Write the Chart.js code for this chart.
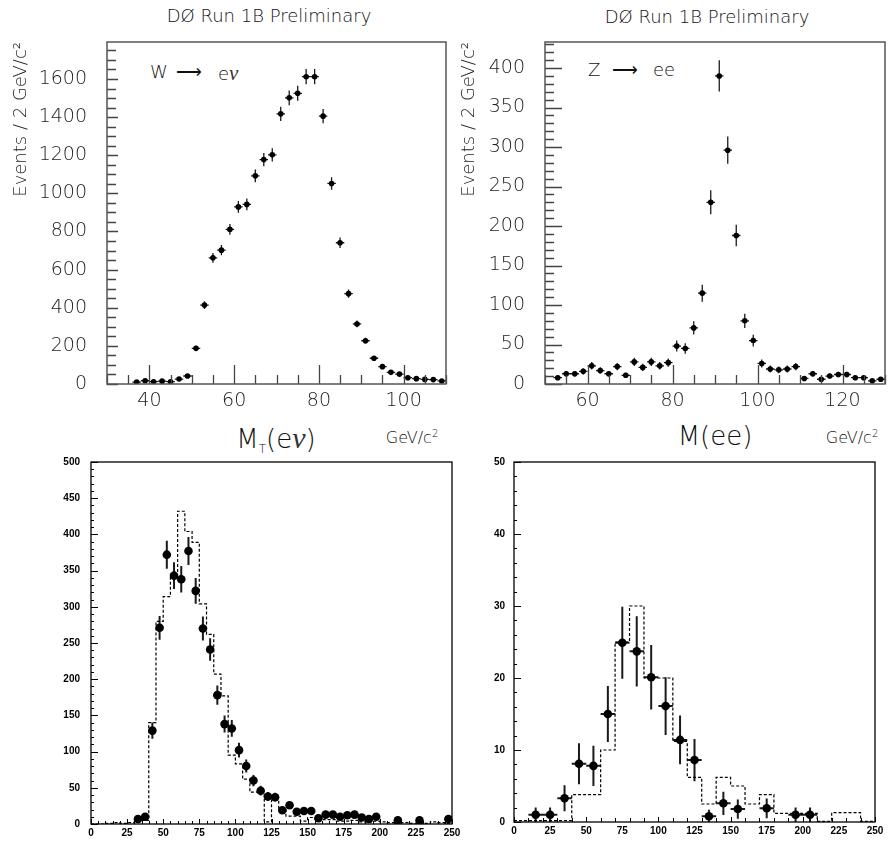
<!DOCTYPE html>
<html>
<head>
<meta charset="utf-8">
<script src="https://cdn.jsdelivr.net/npm/chart.js@4.4.0/dist/chart.umd.min.js"></script>
<style>
  body { margin: 0; background: #fff; width: 889px; height: 842px; position: relative; overflow: hidden;
         font-family: 'DejaVu Sans', sans-serif; }
  canvas { position: absolute; }
  .t { position: absolute; color: #111; white-space: nowrap; font-weight: 300; line-height: 1; }
  .c { transform: translateX(-50%); }
  .nu { font-family: 'Liberation Serif', serif; font-style: italic; font-weight: 400; color: #333; }
</style>
</head>
<body>
<!-- titres et étiquettes -->
<div class="t c" style="left:269px; top:7px; font-size:18px;">DØ Run 1B Preliminary</div>
<div class="t c" style="left:707px; top:8px; font-size:18px;">DØ Run 1B Preliminary</div>

<div class="t" style="left:150px; top:63px; font-size:18px;">W</div>
<div class="t" style="left:176px; top:63px; font-size:18px;">⟶</div>
<div class="t" style="left:218px; top:63px; font-size:18px;">e<span class="nu" style="font-size:21px;">ν</span></div>
<div class="t" style="left:588px; top:61px; font-size:18px;">Z</div>
<div class="t" style="left:612px; top:61px; font-size:18px;">⟶</div>
<div class="t" style="left:653px; top:61px; font-size:18px;">ee</div>

<div class="t c" style="left:276px; top:423px; font-size:26px;">M<span style="font-size:12px; position:relative; top:5px;">T</span>(e<span class="nu" style="font-size:30px;">ν</span>)</div>
<div class="t c" style="left:412px; top:429px; font-size:16px;">GeV/c<sup style="font-size:10px;">2</sup></div>
<div class="t c" style="left:715px; top:423px; font-size:26px;">M(ee)</div>
<div class="t c" style="left:852px; top:429px; font-size:16px;">GeV/c<sup style="font-size:10px;">2</sup></div>

<canvas id="cW" style="left:0; top:30px;" width="450" height="390"></canvas>
<canvas id="cZ" style="left:450px; top:30px;" width="439" height="390"></canvas>
<canvas id="cMt" style="left:0; top:450px;" width="470" height="392"></canvas>
<canvas id="cMee" style="left:456px; top:450px;" width="433" height="392"></canvas>

<script>
// --- W -> e nu, masse transverse (bins de 2 GeV) ---
const wBins = [37, 39, 41, 43, 45, 47, 49, 51, 53, 55, 57, 59, 61, 63, 65, 67, 69, 71, 73, 75,
               77, 79, 81, 83, 85, 87, 89, 91, 93, 95, 97, 99, 101, 103, 105, 107, 109];
const wEvents = [10, 17, 12, 15, 12, 26, 42, 187, 414, 662, 702, 811, 929, 942, 1092, 1177, 1202, 1417, 1501, 1525,
                 1612, 1612, 1405, 1052, 741, 474, 315, 227, 135, 91, 61, 52, 33, 28, 24, 23, 16];
const wTicksX = [40, 60, 80, 100];
const wTicksY = [0, 200, 400, 600, 800, 1000, 1200, 1400, 1600];

// --- Z -> ee, masse invariante (bins de 2 GeV) ---
const zBins = [53, 55, 57, 59, 61, 63, 65, 67, 69, 71, 73, 75, 77, 79, 81, 83, 85, 87, 89, 91,
               93, 95, 97, 99, 101, 103, 105, 107, 109, 111, 113, 115, 117, 119, 121, 123, 125, 127, 129];
const zEvents = [8, 13, 13, 16, 23, 17, 13, 22, 11, 28, 21, 28, 23, 27, 48, 45, 71, 115, 230, 390,
                 296, 188, 80, 55, 26, 19, 18, 19, 22, 7, 13, 6, 10, 12, 12, 8, 8, 4, 6];
const zTicksX = [60, 80, 100, 120];
const zTicksY = [0, 50, 100, 150, 200, 250, 300, 350, 400];

// --- M_T : données (bins de 5 GeV) et simulation (histogramme pointillé) ---
const mtBins = [32.5, 37.5, 42.5, 47.5, 52.5, 57.5, 62.5, 67.5, 72.5, 77.5, 82.5, 87.5, 92.5, 97.5,
                102.5, 107.5, 112.5, 117.5, 122.5, 127.5, 132.5, 137.5, 142.5, 147.5, 152.5, 157.5,
                162.5, 167.5, 172.5, 177.5, 182.5, 187.5, 192.5, 197.5, 212.5, 227.5, 247.5];
const mtEvents = [7, 10, 129, 271, 372, 343, 338, 377, 322, 270, 241, 178, 138, 132,
                  102, 80, 60, 46, 38, 37, 19, 26, 17, 18, 18, 8,
                  13, 13, 10, 12, 13, 9, 7, 10, 5, 5, 7];
const mtMcEdges = [0, 5, 10, 15, 20, 25, 30, 35, 40, 45, 50, 55, 60, 65, 70, 75, 80, 85, 90, 95,
                   100, 105, 110, 115, 120, 125, 130, 135, 140, 145, 150, 155, 160, 165, 170, 175,
                   180, 185, 190, 195, 200, 205, 210, 215, 220, 225, 230, 235, 240, 245, 250];
const mtMc = [0, 0, 1, 2, 1, 2, 3, 5, 140, 280, 314, 345, 432, 404, 389, 304, 262, 207, 177, 95,
              83, 62, 44, 44, 3, 33, 20, 11, 11, 4, 9, 7, 6, 6, 4, 4,
              5, 3, 3, 4, 3, 2, 1, 2, 1, 1, 1, 3, 2, 1];
const mtTicksX = [0, 25, 50, 75, 100, 125, 150, 175, 200, 225, 250];
const mtTicksY = [0, 50, 100, 150, 200, 250, 300, 350, 400, 450, 500];

// --- M(ee) : données (bins de 10 GeV) et simulation ---
const meeBins = [15, 25, 35, 45, 55, 65, 75, 85, 95, 105, 115, 125, 135, 145, 155, 175, 195, 205];
const meeEvents = [1, 1, 3.3, 8.1, 7.8, 15, 24.9, 23.7, 20.1, 16.1, 11.4, 8.6, 0.8, 2.6, 1.8, 1.9, 1, 1];
const meeMcEdges = [0, 10, 20, 30, 40, 50, 60, 70, 80, 90, 100, 110, 120, 130, 140, 150, 160, 170,
                    180, 190, 200, 210, 220, 230, 240, 250];
const meeMc = [0.2, 0.2, 0.2, 0.2, 3.8, 3.8, 10, 25, 30, 20, 20, 11.2, 6.2, 2.5, 6.2, 5, 2.5, 3.8,
               1.2, 1.2, 1.2, 0.1, 1.3, 1.3, 0.1];
const meeTicksX = [0, 25, 50, 75, 100, 125, 150, 175, 200, 225, 250];
const meeTicksY = [0, 10, 20, 30, 40, 50];

// Barres d'erreur poissoniennes (sqrt N) + demi-largeur de bin
const errorBars = {
    id: 'errorBars',
    beforeDatasetsDraw(chart, args, o) {
        const { ctx, chartArea: a, scales: { x, y } } = chart;
        ctx.save();
        ctx.beginPath();
        ctx.rect(a.left, a.top, a.right - a.left, a.bottom - a.top);
        ctx.clip();
        ctx.strokeStyle = o.color;
        ctx.lineWidth = o.width;
        ctx.beginPath();
        chart.data.datasets[0].data.forEach(p => {
            const px = x.getPixelForValue(p.x);
            const py = y.getPixelForValue(p.y);
            const e = Math.sqrt(p.y);
            ctx.moveTo(px, y.getPixelForValue(p.y - e));
            ctx.lineTo(px, y.getPixelForValue(p.y + e));
            ctx.moveTo(x.getPixelForValue(p.x - o.halfWidth), py);
            ctx.lineTo(x.getPixelForValue(p.x + o.halfWidth), py);
        });
        ctx.stroke();
        ctx.restore();
    }
};

// Cadre + graduations intérieures (style PAW)
const frameTicks = {
    id: 'frameTicks',
    afterDatasetsDraw(chart, args, o) {
        const { ctx, chartArea: a, scales: { x, y } } = chart;
        ctx.save();
        ctx.strokeStyle = o.tickColor;
        ctx.lineWidth = o.tickWidth;
        ctx.beginPath();
        const isMajor = (v, m) => Math.abs(v / m - Math.round(v / m)) < 1e-6;
        for (let v = x.min; v <= x.max + 1e-9; v += o.xMinor) {
            const px = Math.round(x.getPixelForValue(v)) + 0.5;
            const len = isMajor(v, o.xMajor) ? o.xMajorLen : o.xMinorLen;
            ctx.moveTo(px, a.bottom);
            ctx.lineTo(px, a.bottom - len);
        }
        for (let v = y.min; v <= y.max + 1e-9; v += o.yMinor) {
            const py = Math.round(y.getPixelForValue(v)) + 0.5;
            const len = isMajor(v, o.yMajor) ? o.yMajorLen : o.yMinorLen;
            ctx.moveTo(a.left, py);
            ctx.lineTo(a.left + len, py);
        }
        ctx.stroke();
        ctx.strokeStyle = o.frameColor;
        ctx.lineWidth = o.frameWidth;
        ctx.strokeRect(a.left, a.top, a.right - a.left, a.bottom - a.top);
        ctx.restore();
    }
};

function makePanel(id, cfg) {
    const canvas = document.getElementById(id);
    const pts = cfg.bins.map((b, i) => ({ x: b, y: cfg.events[i] }));
    const datasets = [{
        data: pts,
        pointRadius: cfg.radius,
        pointBackgroundColor: '#000',
        pointBorderWidth: 0,
        showLine: false
    }];
    if (cfg.mcEdges) {
        const steps = cfg.mc.map((v, i) => ({ x: cfg.mcEdges[i], y: v }));
        steps.push({ x: cfg.mcEdges[cfg.mcEdges.length - 1], y: cfg.mc[cfg.mc.length - 1] });
        datasets.push({
            type: 'line',
            data: steps,
            stepped: true,
            borderColor: '#000',
            borderWidth: 1.2,
            borderDash: [3, 2],
            pointRadius: 0,
            fill: false
        });
    }
    const tickFont = { family: cfg.fontFamily, size: cfg.fontSize, weight: cfg.fontWeight };
    return new Chart(canvas, {
        type: 'scatter',
        data: { datasets: datasets },
        options: {
            responsive: false,
            animation: false,
            events: [],
            layout: { padding: { top: cfg.padTop, right: cfg.padRight, left: 0, bottom: 0 } },
            plugins: {
                legend: { display: false },
                tooltip: { enabled: false },
                errorBars: { color: '#1a1a1a', width: cfg.errWidth, halfWidth: cfg.halfWidth },
                frameTicks: cfg.frame
            },
            scales: {
                x: {
                    type: 'linear', min: cfg.xMin, max: cfg.xMax,
                    grid: { display: false, drawTicks: false },
                    border: { display: false },
                    ticks: { font: tickFont, color: cfg.textColor, padding: cfg.xPad, maxRotation: 0,
                             autoSkip: false, callback: v => String(v) },
                    afterBuildTicks: s => { s.ticks = cfg.ticksX.map(v => ({ value: v })); },
                    afterFit: s => { s.height = cfg.xHeight; s.paddingLeft = 0; s.paddingRight = 0; }
                },
                y: {
                    type: 'linear', min: cfg.yMin, max: cfg.yMax,
                    grid: { display: false, drawTicks: false },
                    border: { display: false },
                    ticks: { font: tickFont, color: cfg.textColor, padding: cfg.yPad, autoSkip: false,
                             callback: v => String(v) },
                    title: cfg.yTitle ? {
                        display: true, text: cfg.yTitle, align: 'end', color: '#222',
                        font: { family: cfg.fontFamily, size: 18, weight: cfg.fontWeight },
                        padding: { top: cfg.yTitlePad, bottom: 0 }
                    } : { display: false },
                    afterBuildTicks: s => { s.ticks = cfg.ticksY.map(v => ({ value: v })); },
                    afterFit: s => { s.width = cfg.yWidth; s.paddingTop = 0; s.paddingBottom = 0; }
                }
            }
        },
        plugins: [errorBars, frameTicks]
    });
}

const topFrame = {
    frameColor: '#555', frameWidth: 1.5, tickColor: '#444', tickWidth: 1.3
};
const bottomFrame = {
    frameColor: '#000', frameWidth: 1.3, tickColor: '#000', tickWidth: 1
};

makePanel('cW', {
    bins: wBins, events: wEvents, radius: 2.8, errWidth: 1.3, halfWidth: 1,
    xMin: 30, xMax: 110, yMin: 0, yMax: 1794, ticksX: wTicksX, ticksY: wTicksY,
    padTop: 12, padRight: 3, xHeight: 36, yWidth: 107, xPad: 6, yPad: 20,
    fontFamily: "'DejaVu Sans', sans-serif", fontSize: 19, fontWeight: 300, textColor: '#222',
    yTitle: 'Events / 2 GeV/c²', yTitlePad: 11,
    frame: Object.assign({ xMinor: 5, xMajor: 20, xMinorLen: 9, xMajorLen: 19,
                           yMinor: 50, yMajor: 200, yMinorLen: 9, yMajorLen: 11 }, topFrame)
});

makePanel('cZ', {
    bins: zBins, events: zEvents, radius: 2.8, errWidth: 1.3, halfWidth: 1,
    xMin: 50, xMax: 130, yMin: 0, yMax: 433, ticksX: zTicksX, ticksY: zTicksY,
    padTop: 12, padRight: 3, xHeight: 36, yWidth: 95, xPad: 6, yPad: 20,
    fontFamily: "'DejaVu Sans', sans-serif", fontSize: 19, fontWeight: 300, textColor: '#222',
    yTitle: 'Events / 2 GeV/c²', yTitlePad: 9,
    frame: Object.assign({ xMinor: 5, xMajor: 20, xMinorLen: 9, xMajorLen: 19,
                           yMinor: 10, yMajor: 50, yMinorLen: 9, yMajorLen: 17 }, topFrame)
});

makePanel('cMt', {
    bins: mtBins, events: mtEvents, radius: 4.3, errWidth: 2, halfWidth: 2.5,
    mcEdges: mtMcEdges, mc: mtMc,
    xMin: 0, xMax: 250, yMin: 0, yMax: 500, ticksX: mtTicksX, ticksY: mtTicksY,
    padTop: 12, padRight: 18, xHeight: 18, yWidth: 91, xPad: 3, yPad: 11,
    fontFamily: "'Liberation Sans', Arial, sans-serif", fontSize: 10, fontWeight: 600, textColor: '#000',
    frame: Object.assign({ xMinor: 5, xMajor: 25, xMinorLen: 3, xMajorLen: 5,
                           yMinor: 10, yMajor: 50, yMinorLen: 3, yMajorLen: 7 }, bottomFrame)
});

makePanel('cMee', {
    bins: meeBins, events: meeEvents, radius: 4.3, errWidth: 2, halfWidth: 5,
    mcEdges: meeMcEdges, mc: meeMc,
    xMin: 0, xMax: 250, yMin: 0, yMax: 50, ticksX: meeTicksX, ticksY: meeTicksY,
    padTop: 12, padRight: 14, xHeight: 20, yWidth: 58, xPad: 3, yPad: 9,
    fontFamily: "'Liberation Sans', Arial, sans-serif", fontSize: 10, fontWeight: 600, textColor: '#000',
    frame: Object.assign({ xMinor: 10, xMajor: 50, xMinorLen: 4, xMajorLen: 5,
                           yMinor: 2, yMajor: 10, yMinorLen: 3, yMajorLen: 7 }, bottomFrame)
});
</script>
</body>
</html>
